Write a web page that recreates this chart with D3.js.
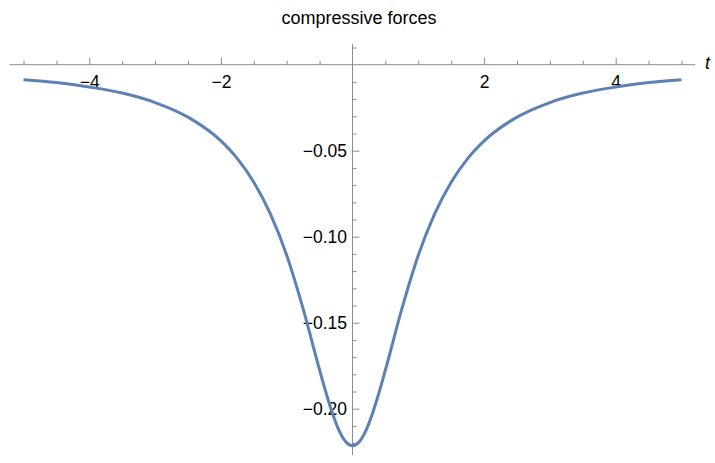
<!DOCTYPE html>
<html>
<head>
<meta charset="utf-8">
<script src="https://cdn.jsdelivr.net/npm/d3@7"></script>
<style>
  html, body { margin: 0; padding: 0; background: #fff; }
  svg { display: block; font-family: "Liberation Sans", Arial, sans-serif; }
</style>
</head>
<body>
<svg id="chart" width="715" height="463"></svg>
<script>
// Data
const tValues = [-5, -4.5, -4, -3.5, -3, -2.5, -2, -1.75, -1.5, -1.25, -1, -0.75, -0.5, -0.4, -0.3, -0.2, -0.1, 0,
                 0.1, 0.2, 0.3, 0.4, 0.5, 0.75, 1, 1.25, 1.5, 1.75, 2, 2.5, 3, 3.5, 4, 4.5, 5];
const forceValues = [-0.0087, -0.0104, -0.0130, -0.0165, -0.0220, -0.0305, -0.0443, -0.0546, -0.0683, -0.0866, -0.1108, -0.1420, -0.1775, -0.1910, -0.2032, -0.2130, -0.2193, -0.2215,
                     -0.2193, -0.2130, -0.2032, -0.1910, -0.1775, -0.1420, -0.1108, -0.0866, -0.0683, -0.0546, -0.0443, -0.0305, -0.0220, -0.0165, -0.0130, -0.0104, -0.0087];
const xMajorTicks = [-4, -2, 2, 4];
const xMinorTicks = [-5, -4.5, -3.5, -3, -2.5, -1.5, -1, -0.5, 0.5, 1, 1.5, 2.5, 3, 3.5, 4.5, 5];
const yMajorTicks = [-0.05, -0.10, -0.15, -0.20];
const yMinorTicks = [0.01, -0.01, -0.02, -0.03, -0.04, -0.06, -0.07, -0.08, -0.09, -0.11, -0.12, -0.13, -0.14, -0.16, -0.17, -0.18, -0.19, -0.21, -0.22];
const titleText = "compressive forces";
const xLabel = "t";

const svg = d3.select("#chart");
const x = d3.scaleLinear().domain([-5, 5]).range([23.5, 681.5]);
const y = d3.scaleLinear().domain([0, -0.20]).range([64.7, 408.7]);

const axisColor = "#8c8c8c";
const fmtX = d => (d < 0 ? "\u2212" : "") + Math.abs(d);
const fmtY = d => (d < 0 ? "\u2212" : "") + Math.abs(d).toFixed(2);

svg.append("line")
  .attr("x1", x(-5.21)).attr("x2", x(5.21))
  .attr("y1", y(0)).attr("y2", y(0))
  .attr("stroke", axisColor).attr("stroke-width", 1);
svg.append("line")
  .attr("x1", x(0)).attr("x2", x(0))
  .attr("y1", y(0.0121)).attr("y2", y(-0.2270))
  .attr("stroke", axisColor).attr("stroke-width", 1);

function styleAxis(g) {
  g.select(".domain").remove();
  g.selectAll(".tick line").attr("stroke", axisColor);
  g.selectAll(".tick text").attr("fill", "#000").style("font-size", "17.5px");
}

svg.append("g").attr("transform", `translate(0,${y(0)})`)
  .call(d3.axisBottom(x).tickValues(xMinorTicks).tickSize(-4).tickFormat(""))
  .call(styleAxis);
svg.append("g").attr("transform", `translate(0,${y(0)})`)
  .call(d3.axisBottom(x).tickValues(xMajorTicks).tickSize(-7).tickPadding(10.5).tickFormat(fmtX))
  .call(styleAxis);

svg.append("g").attr("transform", `translate(${x(0)},0)`)
  .call(d3.axisLeft(y).tickValues(yMinorTicks).tickSize(-4).tickFormat(""))
  .call(styleAxis);
svg.append("g").attr("transform", `translate(${x(0)},0)`)
  .call(d3.axisLeft(y).tickValues(yMajorTicks).tickSize(-7).tickPadding(5.5).tickFormat(fmtY))
  .call(styleAxis);

const data = tValues.map((t, i) => ({ t, v: forceValues[i] }));
svg.append("path")
  .datum(data)
  .attr("fill", "none")
  .attr("stroke", "#5E81B5")
  .attr("stroke-width", 3)
  .attr("stroke-linejoin", "round")
  .attr("d", d3.line().x(d => x(d.t)).y(d => y(d.v)).curve(d3.curveMonotoneX));

svg.append("text")
  .attr("x", 359).attr("y", 24)
  .attr("text-anchor", "middle")
  .style("font-size", "18px")
  .attr("fill", "#000")
  .text(titleText);

svg.append("text")
  .attr("x", 705).attr("y", 69)
  .style("font-size", "18px")
  .style("font-style", "italic")
  .attr("fill", "#000")
  .text(xLabel);
</script>
</body>
</html>
